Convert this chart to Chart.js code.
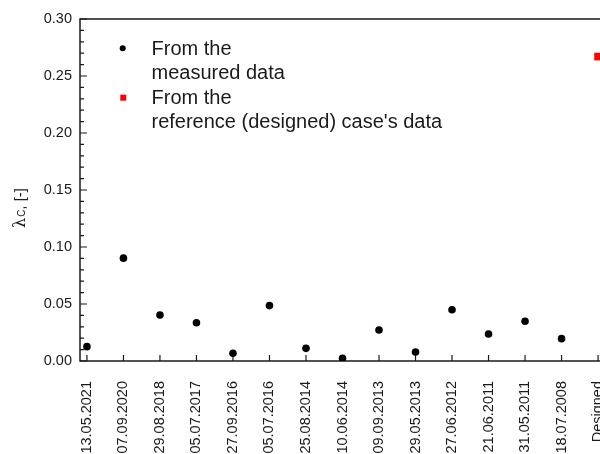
<!DOCTYPE html>
<html>
<head>
<meta charset="utf-8">
<script src="https://cdn.jsdelivr.net/npm/chart.js@4/dist/chart.umd.min.js"></script>
<style>
  html, body { margin: 0; padding: 0; background: #fff; overflow: hidden; }
  #wrap { width: 600px; height: 454px; overflow: hidden; }
</style>
</head>
<body>
<div id="wrap"><canvas id="chart" width="620" height="480"></canvas></div>
<script>
const dates = ['13.05.2021', '07.09.2020', '29.08.2018', '05.07.2017', '27.09.2016',
  '05.07.2016', '25.08.2014', '10.06.2014', '09.09.2013', '29.05.2013',
  '27.06.2012', '21.06.2011', '31.05.2011', '18.07.2008', 'Designed'];
const measured = [0.0126, 0.0902, 0.0404, 0.0336, 0.0068, 0.0486, 0.0111, 0.0024,
  0.0272, 0.0079, 0.0450, 0.0237, 0.0349, 0.0196];
const designed = [0.267];
const yTicks = [0, 0.05, 0.10, 0.15, 0.20, 0.25, 0.30];
const legendMeasured = ['From the', 'measured data'];
const legendDesigned = ['From the', "reference (designed) case's data"];

const FONT = 'Arial, "Liberation Sans", sans-serif';
const INK = '#1a1a1a';

// frame round the plot + inward ticks (major/minor on y, one per date on x)
const framePlugin = {
  id: 'frame',
  beforeDatasetsDraw(chart) {
    const { ctx, chartArea: a, scales } = chart;
    ctx.save();
    ctx.strokeStyle = INK;
    ctx.lineWidth = 1.5;
    ctx.strokeRect(a.left, a.top, a.right - a.left, a.bottom - a.top);
    ctx.lineWidth = 1.2;
    ctx.beginPath();
    for (let i = 0; i <= 30; i++) {
      const y = scales.y.getPixelForValue(i / 100);
      const len = i % 5 === 0 ? 7 : 4;
      ctx.moveTo(a.left, y);
      ctx.lineTo(a.left + len, y);
    }
    dates.forEach((d, i) => {
      const x = scales.x.getPixelForValue(i);
      ctx.moveTo(x, a.bottom);
      ctx.lineTo(x, a.bottom - 6);
    });
    ctx.stroke();
    ctx.restore();
  }
};

// y axis title with subscript C
const titlePlugin = {
  id: 'ytitle',
  afterDraw(chart) {
    const ctx = chart.ctx;
    ctx.save();
    ctx.translate(25, 228);
    ctx.rotate(-Math.PI / 2);
    ctx.fillStyle = INK;
    ctx.textAlign = 'left';
    ctx.textBaseline = 'alphabetic';
    ctx.font = '16px "DejaVu Serif", "Liberation Serif", serif';
    ctx.fillText('λ', 0, 0);
    let x = ctx.measureText('λ').width + 1;
    ctx.font = '10px ' + FONT;
    ctx.fillText('C', x, 0);
    x += ctx.measureText('C').width;
    ctx.font = '15px ' + FONT;
    ctx.fillText(', [-]', x, 0);
    ctx.restore();
  }
};

// legend inside the plot, top left
const legendPlugin = {
  id: 'insideLegend',
  afterDraw(chart) {
    const ctx = chart.ctx;
    ctx.save();
    ctx.font = '20px ' + FONT;
    ctx.fillStyle = '#000';
    ctx.textBaseline = 'alphabetic';
    ctx.beginPath();
    ctx.arc(122.7, 48.3, 3, 0, Math.PI * 2);
    ctx.fill();
    ctx.fillStyle = '#ff0000';
    ctx.fillRect(120.3, 94.7, 6, 6);
    ctx.fillStyle = INK;
    const lines = legendMeasured.concat(legendDesigned);
    lines.forEach((t, i) => ctx.fillText(t, 151.5, 55 + i * 24.4));
    ctx.restore();
  }
};

new Chart(document.getElementById('chart'), {
  type: 'scatter',
  data: {
    datasets: [
      {
        label: legendMeasured.join(' '),
        data: measured.map((v, i) => ({ x: i, y: v })),
        pointStyle: 'circle',
        pointRadius: 3.8,
        backgroundColor: '#000',
        borderColor: '#000',
        borderWidth: 0
      },
      {
        label: legendDesigned.join(' '),
        data: designed.map(v => ({ x: dates.length - 1, y: v })),
        pointStyle: 'rect',
        pointRadius: 5.4,
        backgroundColor: '#ff0000',
        borderColor: '#ff0000',
        borderWidth: 0
      }
    ]
  },
  options: {
    responsive: false,
    animation: false,
    devicePixelRatio: 1,
    layout: { padding: { left: 0, top: 19, right: 15, bottom: 0 } },
    plugins: { legend: { display: false }, tooltip: { enabled: false } },
    scales: {
      x: {
        type: 'linear',
        bounds: 'data',
        min: -0.19,
        max: 14.19,
        grid: { display: false, drawTicks: false },
        border: { display: false },
        afterBuildTicks: s => { s.ticks = dates.map((d, i) => ({ value: i })); },
        afterFit: s => { s.height = 119; s.paddingLeft = 0; s.paddingRight = 0; },
        ticks: {
          minRotation: 90,
          maxRotation: 90,
          autoSkip: false,
          padding: 20,
          color: INK,
          font: { family: FONT, size: 14.5 },
          callback: v => dates[v]
        }
      },
      y: {
        bounds: 'data',
        min: 0,
        max: 0.3,
        grid: { display: false, drawTicks: false },
        border: { display: false },
        afterBuildTicks: s => { s.ticks = yTicks.map(v => ({ value: v })); },
        afterFit: s => { s.width = 80; s.paddingTop = 0; s.paddingBottom = 0; },
        ticks: {
          padding: 8,
          color: INK,
          font: { family: FONT, size: 14.5 },
          callback: v => v.toFixed(2)
        }
      }
    }
  },
  plugins: [framePlugin, titlePlugin, legendPlugin]
});
</script>
</body>
</html>
